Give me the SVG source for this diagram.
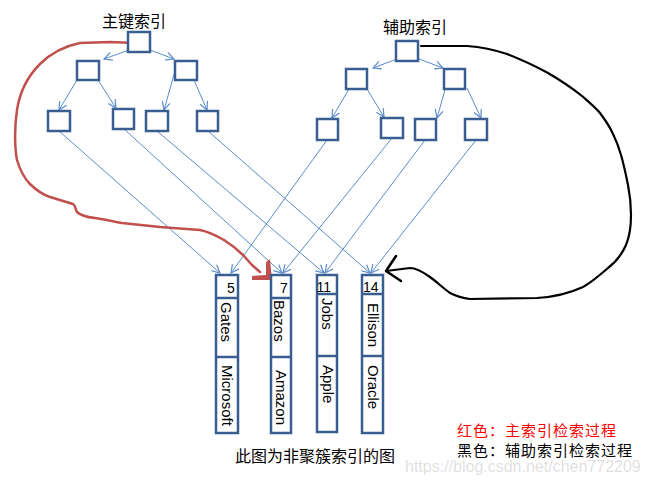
<svg xmlns="http://www.w3.org/2000/svg" width="647" height="481" viewBox="0 0 647 481">
<style>
.box{fill:#fff;stroke:#3B5E91;stroke-width:2.5}
.rec{fill:none;stroke:#3B5E91;stroke-width:2.5}
.ln{fill:none;stroke:#5B8CCB;stroke-width:1;marker-end:url(#ah)}
.cjk{font-family:"Noto Sans CJK SC","Liberation Sans",sans-serif;font-size:16px;fill:#000}
.leg{font-family:"Noto Sans CJK SC","Liberation Sans",sans-serif;font-size:15px;letter-spacing:1px;fill:#000}
.lat{font-family:"Liberation Sans",Arial,sans-serif;font-size:15px;fill:#000}
.num{font-family:"Liberation Sans",Arial,sans-serif;font-size:14px;fill:#000}
</style>
<defs>
<marker id="ah" markerUnits="userSpaceOnUse" markerWidth="12" markerHeight="12" refX="9" refY="5" orient="auto">
<path d="M1,1 L9,5 L1,9" fill="none" stroke="#5B8CCB" stroke-width="1.2"/>
</marker>
</defs>
<rect width="647" height="481" fill="#fff"/>

<g id="labels">
<text class="cjk" x="102" y="27">主键索引</text>
<text class="cjk" x="383" y="33">辅助索引</text>
<text class="cjk" x="235" y="462">此图为非聚簇索引的图</text>
<text class="leg" x="457" y="436" style="fill:#ff0000">红色：主索引检索过程</text>
<text class="leg" x="457" y="456">黑色：辅助索引检索过程</text>
<text x="405" y="472" style="font-family:'Liberation Sans',Arial,sans-serif;font-size:16px;fill:#000;opacity:0.12">https://blog.csdn.net/chen772209</text>
</g>

<g id="connectors">
<line class="ln" x1="129" y1="50" x2="104" y2="59"/>
<line class="ln" x1="150" y1="50" x2="174" y2="59"/>
<line class="ln" x1="77" y1="80" x2="59" y2="110"/>
<line class="ln" x1="98" y1="80" x2="116" y2="108"/>
<line class="ln" x1="175" y1="71" x2="164" y2="110"/>
<line class="ln" x1="194" y1="80" x2="207" y2="110"/>
<line class="ln" x1="397" y1="59" x2="373" y2="68"/>
<line class="ln" x1="419" y1="59" x2="443" y2="68"/>
<line class="ln" x1="349" y1="89" x2="332" y2="118"/>
<line class="ln" x1="367" y1="89" x2="384" y2="117"/>
<line class="ln" x1="448" y1="79" x2="437" y2="118"/>
<line class="ln" x1="467" y1="88" x2="481" y2="118"/>
<line class="ln" x1="59" y1="131" x2="220" y2="273"/>
<line class="ln" x1="124" y1="129" x2="282" y2="273"/>
<line class="ln" x1="157" y1="131" x2="324" y2="273"/>
<line class="ln" x1="208" y1="131" x2="370" y2="273"/>
<line class="ln" x1="327" y1="140" x2="231" y2="273"/>
<line class="ln" x1="392" y1="138" x2="283" y2="273"/>
<line class="ln" x1="425" y1="140" x2="325" y2="273"/>
<line class="ln" x1="476" y1="140" x2="371" y2="273"/>
<path d="M135,43 L110,42 L80,43 C65,46 52,52 40,64 C28,76 20,90 17,110 C14,130 15,150 17,160 C20,170 24,178 30,184 C37,191 44,195 50,197 L73,204 C76,206 75,209 77,212 C80,215 86,217 95,218 L107,220 C112,221 116,222 122,223 L160,227 L200,230 C210,232 217,236 224,240 C232,245 238,250 243,255 L252,265 L260,272" fill="none" stroke="#C0504D" stroke-width="2.5" stroke-linejoin="round" stroke-linecap="round"/>
<polygon points="266,262 270,259 272,280 252,280 252,276 266,275" fill="#C0504D"/>
<path d="M421,46 L467,46 C480,47 495,50 507,54 C520,59 535,66 548,73 C560,80 572,88 582,96 C590,103 596,108 600,113 C606,121 610,127 613,134 C617,142 619,148 621,155 C624,165 626,175 628,185 C630,195 631,205 631,215 C631,228 629,238 626,245 C622,254 616,262 608,268 C600,275 592,282 583,287 C570,293 555,297 537,298 L470,299 C462,298 456,296 450,293 C443,288 437,282 430,277 C423,272 416,268 410,268 L386,271" fill="none" stroke="#000" stroke-width="2.2" stroke-linejoin="round" stroke-linecap="round"/>
<path d="M396,256 L386,271 L401,281" fill="none" stroke="#000" stroke-width="2.5" stroke-linejoin="round" stroke-linecap="round"/>
</g>

<g id="primary-tree">
<rect id="p-root" class="box" x="128" y="32" width="22" height="20"/>
<rect id="p-l" class="box" x="77" y="61" width="22" height="19"/>
<rect id="p-r" class="box" x="175" y="61" width="22" height="19"/>
<rect id="p-ll" class="box" x="48" y="111" width="22" height="20"/>
<rect id="p-lr" class="box" x="113" y="109" width="21" height="20"/>
<rect id="p-rl" class="box" x="146" y="111" width="22" height="20"/>
<rect id="p-rr" class="box" x="197" y="111" width="21" height="20"/>
</g>

<g id="secondary-tree">
<rect id="s-root" class="box" x="396" y="41" width="22" height="20"/>
<rect id="s-l" class="box" x="346" y="69" width="21" height="20"/>
<rect id="s-r" class="box" x="444" y="69" width="21" height="20"/>
<rect id="s-ll" class="box" x="317" y="119" width="21" height="21"/>
<rect id="s-lr" class="box" x="381" y="118" width="22" height="20"/>
<rect id="s-rl" class="box" x="415" y="119" width="21" height="21"/>
<rect id="s-rr" class="box" x="465" y="119" width="22" height="21"/>
</g>

<g id="record-5">
<rect class="rec" x="216" y="275" width="22" height="158"/>
<line class="rec" x1="216" y1="298" x2="238" y2="298"/>
<line class="rec" x1="216" y1="357" x2="238" y2="357"/>
<text class="num" x="227" y="293">5</text>
<text class="lat" transform="translate(221,302) rotate(90)">Gates</text>
<text class="lat" transform="translate(222,365) rotate(90)">Microsoft</text>
</g>
<g id="record-7">
<rect class="rec" x="271" y="275" width="20" height="158"/>
<line class="rec" x1="271" y1="298" x2="291" y2="298"/>
<line class="rec" x1="271" y1="357" x2="291" y2="357"/>
<text class="num" x="280" y="293">7</text>
<text class="lat" transform="translate(273.5,300) rotate(90)">Bazos</text>
<text class="lat" transform="translate(276,370) rotate(90)">Amazon</text>
</g>
<g id="record-11">
<rect class="rec" x="317" y="275" width="20" height="157"/>
<line class="rec" x1="317" y1="294" x2="337" y2="294"/>
<line class="rec" x1="317" y1="356" x2="337" y2="356"/>
<text class="num" x="316.5" y="292">11</text>
<text class="lat" transform="translate(322,298) rotate(90)">Jobs</text>
<text class="lat" transform="translate(323,365) rotate(90)">Apple</text>
</g>
<g id="record-14">
<rect class="rec" x="362" y="275" width="21" height="158"/>
<line class="rec" x1="362" y1="294" x2="383" y2="294"/>
<line class="rec" x1="362" y1="356" x2="383" y2="356"/>
<text class="num" x="363" y="292">14</text>
<text class="lat" transform="translate(368,303) rotate(90)">Ellison</text>
<text class="lat" transform="translate(368,365) rotate(90)">Oracle</text>
</g>
</svg>
